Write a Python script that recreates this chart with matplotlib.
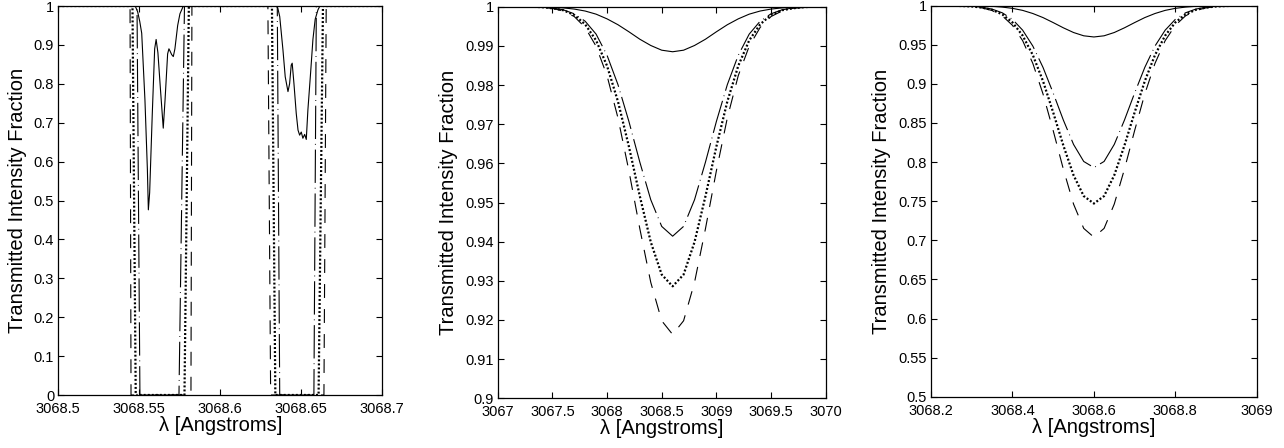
import matplotlib
matplotlib.use('Agg')
import matplotlib.pyplot as plt

plt.rcParams['font.family'] = ['Liberation Sans', 'DejaVu Sans']
plt.rcParams['lines.scale_dashes'] = False

# ---- left panel: two saturated features ----
left_solid_x = [3068.500, 3068.5475, 3068.5490, 3068.5503, 3068.5515, 3068.5535, 3068.5550,
                3068.5556, 3068.5564, 3068.5580, 3068.5595, 3068.5604, 3068.5615, 3068.5630,
                3068.5648, 3068.5659, 3068.5675, 3068.5683, 3068.5689, 3068.5700, 3068.5710,
                3068.5720, 3068.5737, 3068.5751, 3068.5772, 3068.6345, 3068.6355, 3068.6367,
                3068.6387, 3068.6401, 3068.6418, 3068.6428, 3068.6438, 3068.6444, 3068.6455,
                3068.6469, 3068.6480, 3068.6490, 3068.6500, 3068.6510, 3068.6521, 3068.6531,
                3068.6541, 3068.6558, 3068.6572, 3068.6586, 3068.6603, 3068.6615, 3068.700]
left_solid_y = [1.0, 1.0, 0.985, 0.96, 0.93, 0.758, 0.58, 0.476, 0.52, 0.72, 0.89, 0.914,
                0.88, 0.79, 0.686, 0.758, 0.877, 0.89, 0.885, 0.875, 0.87, 0.89, 0.95, 0.98,
                1.0, 1.0, 0.995, 0.973, 0.887, 0.818, 0.78, 0.80, 0.848, 0.853, 0.80, 0.724,
                0.681, 0.668, 0.676, 0.66, 0.67, 0.657, 0.733, 0.83, 0.914, 0.966, 0.99, 1.0, 1.0]
left_box_y = [1, 1, 0, 0, 1, 1, 0, 0, 1, 1]
left_dashdot_x = [3068.50, 3068.5486, 3068.5504, 3068.5745, 3068.5779,
                  3068.6352, 3068.6367, 3068.6578, 3068.6593, 3068.70]
left_dotted_x = [3068.50, 3068.5458, 3068.5478, 3068.5779, 3068.5806,
                 3068.6319, 3068.6340, 3068.6607, 3068.6634, 3068.70]
left_dashed_x = [3068.50, 3068.5443, 3068.5449, 3068.5819, 3068.5825,
                 3068.6294, 3068.6311, 3068.6640, 3068.6654, 3068.70]

# ---- middle panel ----
mid_x = [3067.0, 3067.1, 3067.2, 3067.3, 3067.4, 3067.5, 3067.6, 3067.7, 3067.8, 3067.9,
         3068.0, 3068.1, 3068.2, 3068.3, 3068.4, 3068.5, 3068.6, 3068.7, 3068.8, 3068.9,
         3069.0, 3069.1, 3069.2, 3069.3, 3069.4, 3069.5, 3069.6, 3069.7, 3069.8, 3069.9, 3070.0]
mid_solid = [1.0, 1.0, 1.0, 1.0, 0.9999, 0.9999, 0.9997, 0.9994, 0.9989, 0.9981, 0.9969,
             0.9954, 0.9936, 0.9917, 0.9901, 0.9889, 0.9885, 0.9889, 0.9901, 0.9917, 0.9936,
             0.9954, 0.9969, 0.9981, 0.9989, 0.9994, 0.9997, 0.9999, 0.9999, 1.0, 1.0]
mid_dashdot = [1.0, 1.0, 1.0, 1.0, 0.9999, 0.9997, 0.9992, 0.9982, 0.9963, 0.9930, 0.9876,
               0.9801, 0.9707, 0.9603, 0.9507, 0.9439, 0.9414, 0.9439, 0.9507, 0.9603, 0.9707,
               0.9801, 0.9876, 0.9930, 0.9963, 0.9982, 0.9992, 0.9997, 0.9999, 1.0, 1.0]
mid_dotted = [1.0, 1.0, 1.0, 1.0, 0.9999, 0.9996, 0.9991, 0.9979, 0.9955, 0.9914, 0.9849,
              0.9758, 0.9643, 0.9516, 0.9399, 0.9316, 0.9286, 0.9316, 0.9399, 0.9516, 0.9643,
              0.9758, 0.9849, 0.9914, 0.9955, 0.9979, 0.9991, 0.9996, 0.9999, 1.0, 1.0]
mid_dashed = [1.0, 1.0, 1.0, 0.9999, 0.9998, 0.9996, 0.9989, 0.9975, 0.9947, 0.9899, 0.9824,
              0.9716, 0.9581, 0.9433, 0.9296, 0.9198, 0.9163, 0.9198, 0.9296, 0.9433, 0.9581,
              0.9716, 0.9824, 0.9899, 0.9947, 0.9975, 0.9989, 0.9996, 0.9998, 0.9999, 1.0]

# ---- right panel ----
right_x = [3068.200, 3068.225, 3068.250, 3068.275, 3068.300, 3068.325, 3068.350, 3068.375,
           3068.400, 3068.425, 3068.450, 3068.475, 3068.500, 3068.525, 3068.550, 3068.575,
           3068.600, 3068.625, 3068.650, 3068.675, 3068.700, 3068.725, 3068.750, 3068.775,
           3068.800, 3068.825, 3068.850, 3068.875, 3068.900, 3068.925, 3068.950, 3068.975, 3069.000]
right_solid = [1.0, 1.0, 1.0, 0.9999, 0.9998, 0.9996, 0.9992, 0.9982, 0.9966, 0.9940, 0.9900,
               0.9848, 0.9784, 0.9717, 0.9657, 0.9615, 0.9600, 0.9615, 0.9657, 0.9717, 0.9784,
               0.9848, 0.9900, 0.9940, 0.9966, 0.9982, 0.9992, 0.9996, 0.9998, 0.9999, 1.0, 1.0, 1.0]
right_dashdot = [1.0, 1.0, 0.9999, 0.9997, 0.9992, 0.9981, 0.9956, 0.9909, 0.9825, 0.9687,
                 0.9484, 0.9211, 0.8883, 0.8537, 0.8226, 0.8008, 0.7930, 0.8008, 0.8226, 0.8537,
                 0.8883, 0.9211, 0.9484, 0.9687, 0.9825, 0.9909, 0.9956, 0.9981, 0.9992, 0.9997,
                 0.9999, 1.0, 1.0]
right_dotted = [1.0, 1.0, 0.9999, 0.9996, 0.9990, 0.9976, 0.9947, 0.9889, 0.9786, 0.9618,
                0.9369, 0.9036, 0.8635, 0.8212, 0.7832, 0.7566, 0.7470, 0.7566, 0.7832, 0.8212,
                0.8635, 0.9036, 0.9369, 0.9618, 0.9786, 0.9889, 0.9947, 0.9976, 0.9990, 0.9996,
                0.9999, 1.0, 1.0]
right_dashed = [1.0, 0.9999, 0.9998, 0.9996, 0.9989, 0.9972, 0.9938, 0.9870, 0.9749, 0.9553,
                0.9262, 0.8872, 0.8403, 0.7909, 0.7463, 0.7152, 0.7040, 0.7152, 0.7463, 0.7909,
                0.8403, 0.8872, 0.9262, 0.9553, 0.9749, 0.9870, 0.9938, 0.9972, 0.9989, 0.9996,
                0.9998, 0.9999, 1.0]

# tick labels (matlab style)
left_xticks = [3068.5, 3068.55, 3068.6, 3068.65, 3068.7]
left_xlabels = ['3068.5', '3068.55', '3068.6', '3068.65', '3068.7']
left_yticks = [0, 0.1, 0.2, 0.3, 0.4, 0.5, 0.6, 0.7, 0.8, 0.9, 1]
left_ylabels = ['0', '0.1', '0.2', '0.3', '0.4', '0.5', '0.6', '0.7', '0.8', '0.9', '1']
mid_xticks = [3067, 3067.5, 3068, 3068.5, 3069, 3069.5, 3070]
mid_xlabels = ['3067', '3067.5', '3068', '3068.5', '3069', '3069.5', '3070']
mid_yticks = [0.9, 0.91, 0.92, 0.93, 0.94, 0.95, 0.96, 0.97, 0.98, 0.99, 1]
mid_ylabels = ['0.9', '0.91', '0.92', '0.93', '0.94', '0.95', '0.96', '0.97', '0.98', '0.99', '1']
right_xticks = [3068.2, 3068.4, 3068.6, 3068.8, 3069]
right_xlabels = ['3068.2', '3068.4', '3068.6', '3068.8', '3069']
right_yticks = [0.5, 0.55, 0.6, 0.65, 0.7, 0.75, 0.8, 0.85, 0.9, 0.95, 1]
right_ylabels = ['0.5', '0.55', '0.6', '0.65', '0.7', '0.75', '0.8', '0.85', '0.9', '0.95', '1']

solid = dict(color='black', lw=0.8, ls='-')
dashdot = dict(color='black', lw=0.8, ls=(0, (24, 3.5, 0.6, 3.5)))
dotted = dict(color='black', lw=1.6, ls=(0, (1.4, 1.5)))
dashed = dict(color='black', lw=0.8, ls=(0, (10, 8)))

fig = plt.figure(figsize=(12.84, 4.48), dpi=100)
ax1 = fig.add_axes([0.0454, 0.1183, 0.2523, 0.8683])
ax2 = fig.add_axes([0.3876, 0.1109, 0.2555, 0.8741])
ax3 = fig.add_axes([0.7251, 0.1145, 0.2537, 0.8728])

ax1.plot(left_solid_x, left_solid_y, **solid)
ax1.plot(left_dashdot_x, left_box_y, **dashdot)
ax1.plot(left_dotted_x, left_box_y, **dotted)
ax1.plot(left_dashed_x, left_box_y, **dashed)

ax2.plot(mid_x, mid_solid, **solid)
ax2.plot(mid_x, mid_dashdot, **dashdot)
ax2.plot(mid_x, mid_dotted, **dotted)
ax2.plot(mid_x, mid_dashed, **dashed)

ax3.plot(right_x, right_solid, **solid)
ax3.plot(right_x, right_dashdot, **dashdot)
ax3.plot(right_x, right_dotted, **dotted)
ax3.plot(right_x, right_dashed, **dashed)

setup = [
    (ax1, left_xticks, left_xlabels, left_yticks, left_ylabels, (3068.5, 3068.7), (0, 1)),
    (ax2, mid_xticks, mid_xlabels, mid_yticks, mid_ylabels, (3067, 3070), (0.9, 1)),
    (ax3, right_xticks, right_xlabels, right_yticks, right_ylabels, (3068.2, 3069), (0.5, 1)),
]
for ax, xt, xl, yt, yl, xlim, ylim in setup:
    ax.set_xlim(*xlim)
    ax.set_ylim(*ylim)
    ax.set_xticks(xt)
    ax.set_xticklabels(xl)
    ax.set_yticks(yt)
    ax.set_yticklabels(yl)
    ax.tick_params(direction='in', top=True, right=True, length=4, width=0.8,
                   labelsize=10.5)
    ax.tick_params(axis='x', pad=5)
    ax.tick_params(axis='y', pad=3)
    for sp in ax.spines.values():
        sp.set_linewidth(0.9)
    ax.set_xlabel('λ [Angstroms]', fontsize=14.5, labelpad=0)
    ax.set_ylabel('Transmitted Intensity Fraction', fontsize=14.5, labelpad=5)

fig.savefig('out.png', dpi=100)
